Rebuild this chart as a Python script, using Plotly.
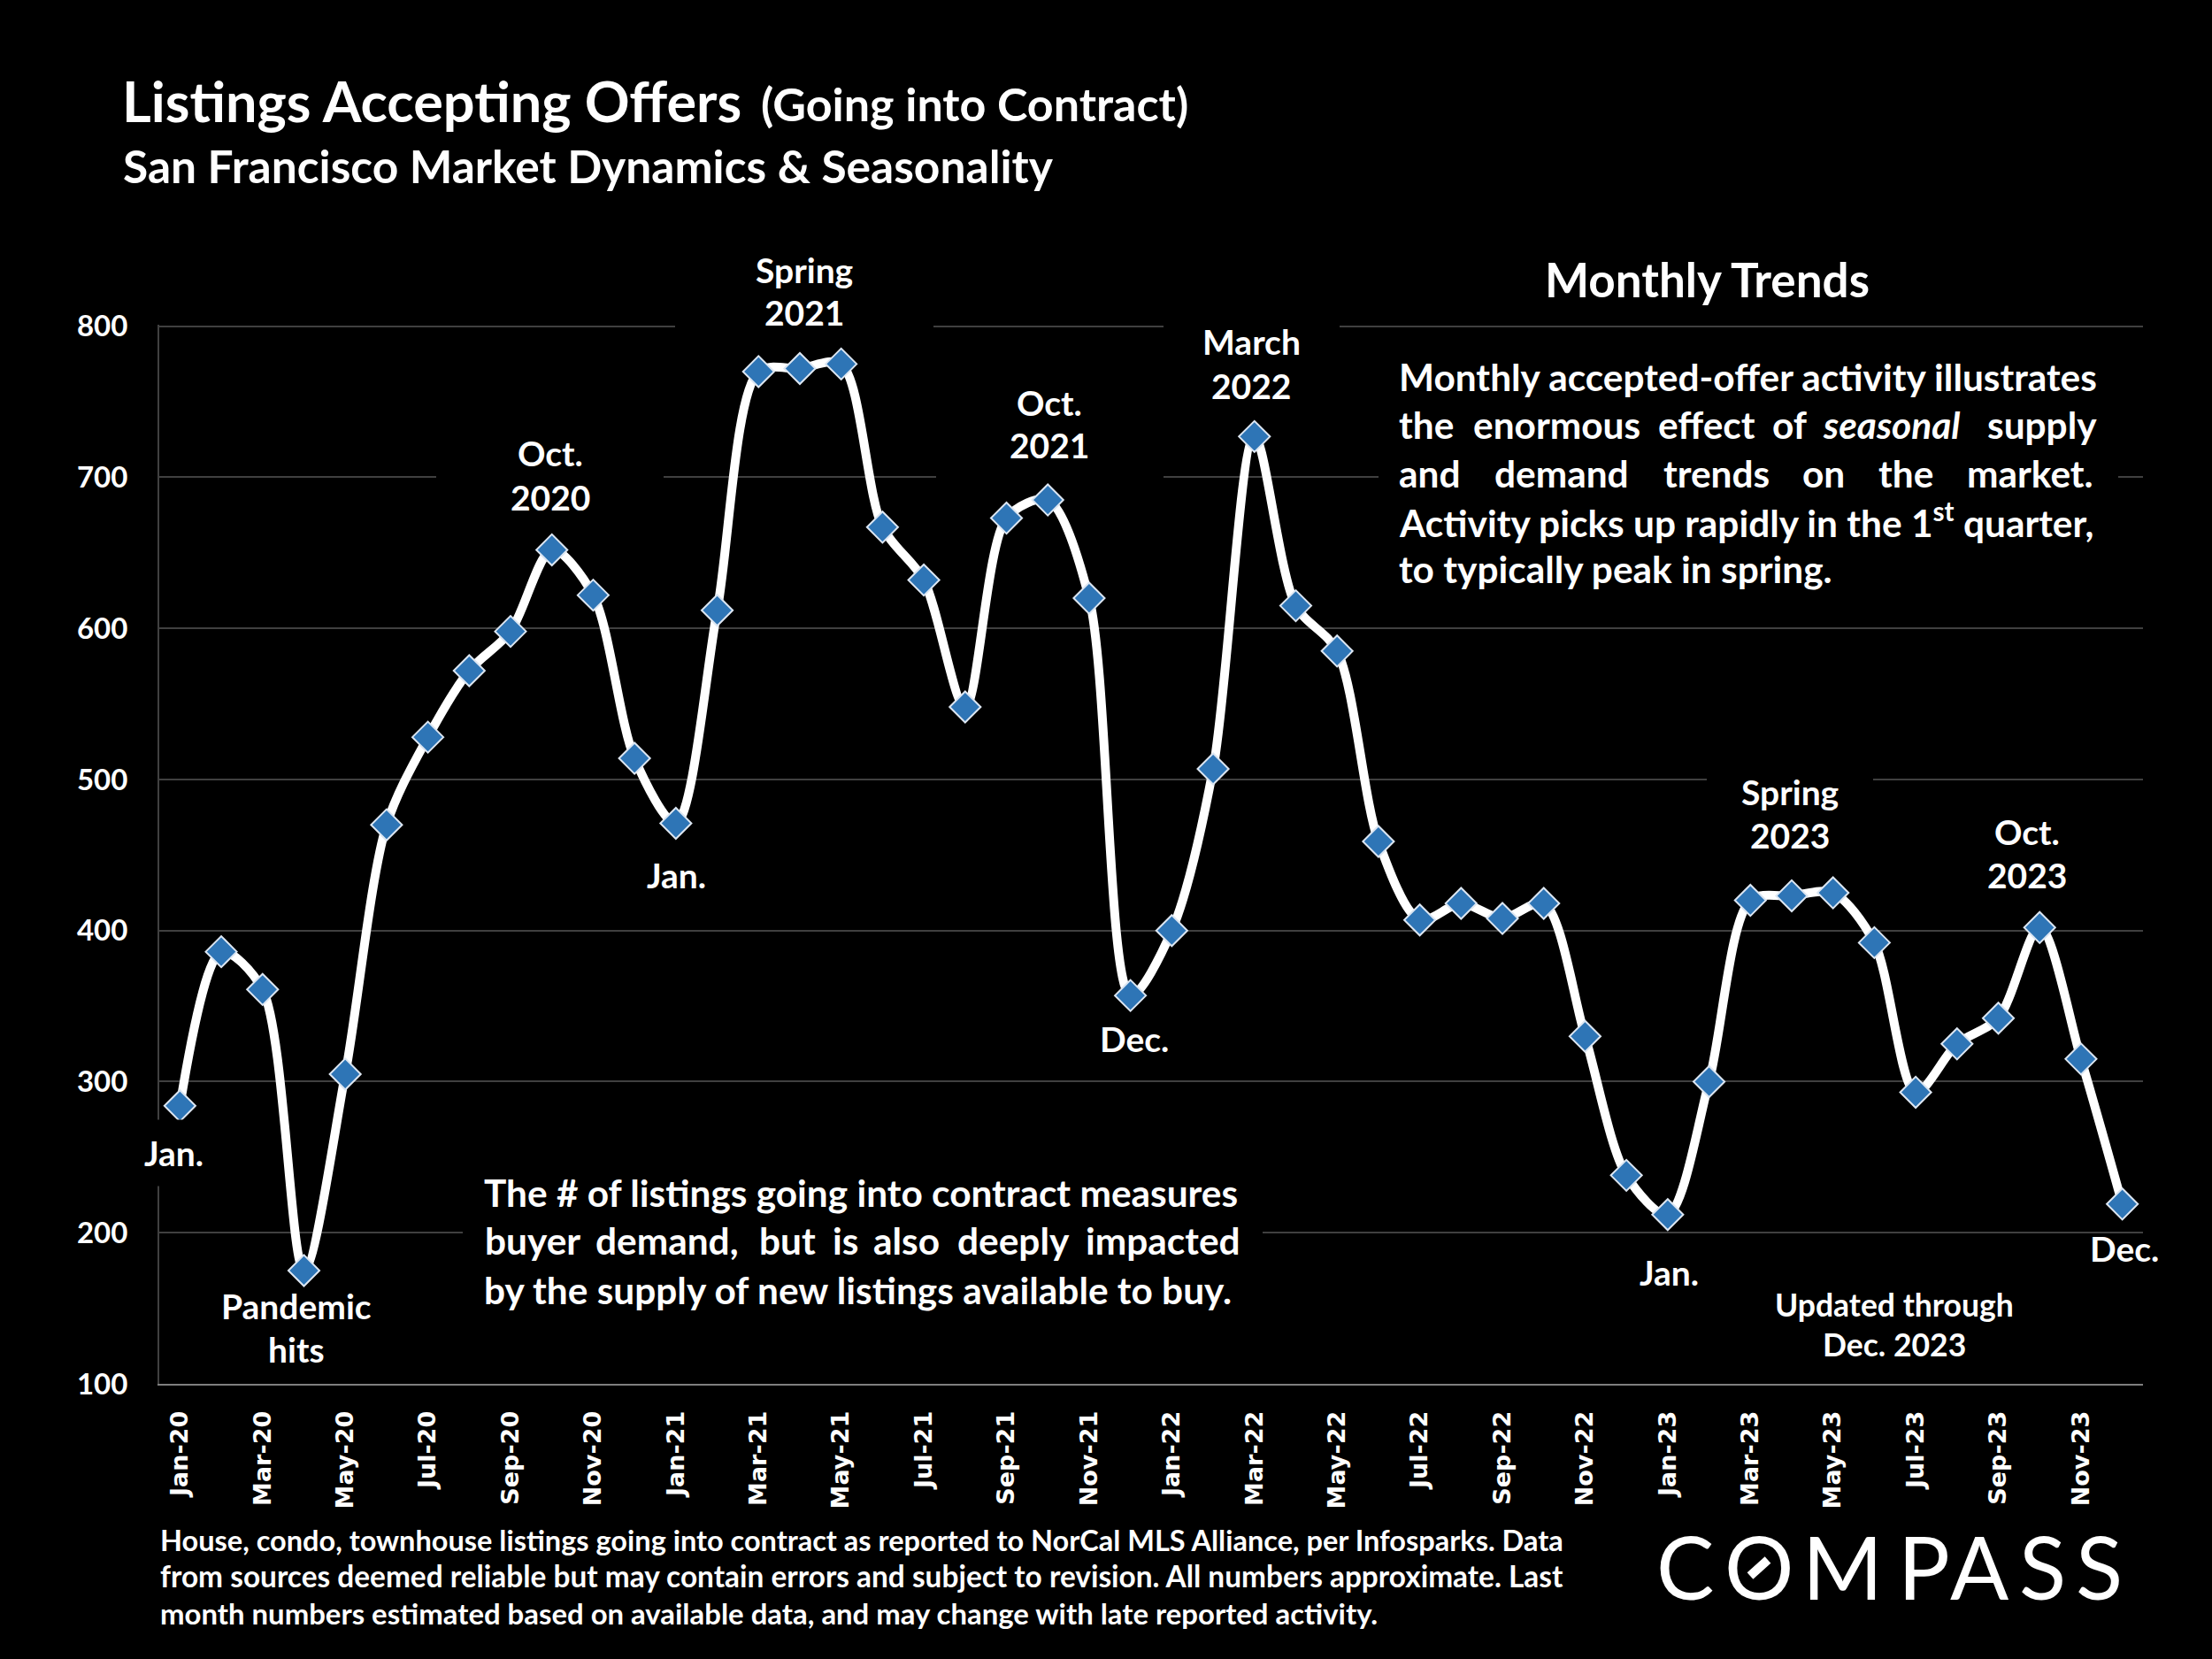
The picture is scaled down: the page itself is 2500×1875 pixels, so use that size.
import plotly.graph_objects as go

months = [f'{m}-{y}' for y in ('20', '21', '22', '23')
          for m in ('Jan', 'Feb', 'Mar', 'Apr', 'May', 'Jun', 'Jul', 'Aug', 'Sep', 'Oct', 'Nov', 'Dec')]
values = [284, 386, 361, 175, 305, 470, 528, 572, 598, 652, 622, 514,
          471, 612, 770, 772, 775, 667, 632, 548, 673, 685, 620, 357,
          400, 507, 727, 615, 585, 459, 407, 418, 408, 418, 330, 238,
          212, 300, 420, 423, 425, 392, 293, 325, 342, 402, 315, 219]
y_ticks = [100, 200, 300, 400, 500, 600, 700, 800]

FONT = 'Lato'

# plot box in page pixels; the y range runs a hair past 800 so its gridline is kept
L, R, T, B = 180, 2422, 367.3, 1564

# gaps in the gridlines behind the text boxes: gridline value, left px, right px
grid_gaps = [
    (800, 763, 1055), (800, 1315, 1514),
    (700, 493, 750), (700, 1058, 1315), (700, 1558, 2394),
    (500, 1929, 2117),
    (200, 523, 1427),
]

# x px (anchor), y px (centre), text, size, anchor
labels = [
    (137, 114, 'Listings Accepting Offers', 63, 'left'),
    (859, 117, '(Going into Contract)', 52, 'left'),
    (138, 187, 'San Francisco Market Dynamics &amp; Seasonality', 51.5, 'left'),
    (1929, 316, 'Monthly Trends', 53, 'center'),
    (909, 305, 'Spring', 39, 'center'), (909, 353, '2021', 39, 'center'),
    (622, 512, 'Oct.', 39, 'center'), (622, 562, '2020', 39, 'center'),
    (1186, 455, 'Oct.', 39, 'center'), (1186, 503, '2021', 39, 'center'),
    (1414, 386, 'March', 39, 'center'), (1414, 436, '2022', 39, 'center'),
    (2023, 895, 'Spring', 39, 'center'), (2023, 944, '2023', 39, 'center'),
    (2291, 940, 'Oct.', 39, 'center'), (2291, 989, '2023', 39, 'center'),
    (335, 1476, 'Pandemic', 39, 'center'), (335, 1525, 'hits', 39, 'center'),
    (764, 989, 'Jan.', 39, 'center'),
    (1282, 1174, 'Dec.', 39, 'center'),
    (1886, 1438, 'Jan.', 39, 'center'),
    (2401, 1411, 'Dec.', 39, 'center'),
    (2141, 1475, 'Updated through', 35.5, 'center'),
    (2141, 1520, 'Dec. 2023', 35.5, 'center'),
    (1580, 426, 'Monthly accepted-offer activity illustrates', 42.4, 'left'),
    (1580, 588, 'Activity picks up rapidly in the 1<sup>st</sup> quarter,', 42.4, 'left'),
    (1580, 643, 'to typically peak in spring.', 42.4, 'left'),
    (546, 1348, 'The # of listings going into contract measures', 42.4, 'left'),
    (546, 1458, 'by the supply of new listings available to buy.', 42.4, 'left'),
    (180, 1740, 'House, condo, townhouse listings going into contract as reported to NorCal MLS Alliance, per Infosparks. Data', 32.5, 'left'),
    (180, 1781, 'from sources deemed reliable but may contain errors and subject to revision. All numbers approximate. Last', 33.4, 'left'),
    (180, 1823, 'month numbers estimated based on available data, and may change with late reported activity.', 32.9, 'left'),
]

# justified lines, one word at a time: y px, then (left px, word)
justified = [
    (480, [(1580, 'the'), (1664, 'enormous'), (1873, 'effect'), (2002, 'of'),
           (2059, '<i>seasonal</i>'), (2245, 'supply')]),
    (535, [(1580, 'and'), (1688, 'demand'), (1879, 'trends'), (2036, 'on'),
           (2122, 'the'), (2222, 'market.')]),
    (1402, [(547, 'buyer'), (672, 'demand,'), (857, 'but'), (940, 'is'),
            (986, 'also'), (1081, 'deeply'), (1226, 'impacted')]),
]

# logo letters: centre x px, letter
logo = [(1904, 'C'), (1988, 'O'), (2082, 'M'), (2174, 'P'), (2237, 'A'), (2308, 'S'), (2372, 'S')]


def px_x(px):
    return (px - L) / (R - L) * 48 - 0.5


def paper_x(px):
    return (px - L) / (R - L)


def paper_y(py):
    return (B - py) / (B - T)


def label(x, y, text, size, anchor, bold=True, bg=None, pad=0):
    return dict(
        x=paper_x(x), y=paper_y(y), xref='paper', yref='paper',
        text=f'<b>{text}</b>' if bold else text, showarrow=False,
        xanchor=anchor, yanchor='middle',
        font=dict(family=FONT, size=size, color='white'), bgcolor=bg, borderpad=pad,
    )


fig = go.Figure(go.Scatter(
    x=list(range(len(values))),
    y=values,
    mode='lines+markers',
    line=dict(color='white', width=10, shape='spline', smoothing=0.85),
    marker=dict(symbol='diamond', size=27, color='#2E75B6', line=dict(color='#DCE6F2', width=2)),
    hoverinfo='skip',
))

annotations = [label(*item) for item in labels]
for y, words in justified:
    annotations += [label(x, y, word, 42.4, 'left') for x, word in words]
# this one also hides a stretch of the y axis line
annotations.append(label(196, 1303, 'Jan.', 39, 'center', bg='black', pad=14))
annotations += [label(x, 1770, letter, 98, 'center', bold=False) for x, letter in logo]

shapes = [
    dict(type='rect', layer='between', xref='x', yref='y',
         x0=px_x(x0), x1=px_x(x1), y0=value - 2, y1=value + 2,
         fillcolor='black', line_width=0)
    for value, x0, x1 in grid_gaps
]
# the bar inside the logo's O
shapes.append(dict(type='line', layer='above', xref='paper', yref='paper',
                   x0=paper_x(1978), x1=paper_x(1998), y0=paper_y(1781), y1=paper_y(1763),
                   line=dict(color='white', width=10)))

fig.update_layout(
    width=2500, height=1875,
    margin=dict(l=L, r=2500 - R, t=T, b=1875 - B, pad=0),
    paper_bgcolor='black', plot_bgcolor='black',
    showlegend=False,
    annotations=annotations,
    shapes=shapes,
    xaxis=dict(
        range=[-0.5, 47.5], tickmode='array',
        tickvals=list(range(0, 48, 2)), ticktext=months[::2],
        tickangle=-90, tickfont=dict(family='DejaVu Sans', size=27, color='white', weight='bold'),
        ticks='outside', ticklen=18, tickcolor='black',
        showgrid=False, zeroline=False, showline=True, linecolor='#7F7F7F', linewidth=2,
    ),
    yaxis=dict(
        range=[100, 801], tickmode='array', tickvals=y_ticks,
        tickfont=dict(family=FONT, size=33, color='white', weight='bold'),
        ticks='outside', ticklen=27, tickcolor='black',
        showgrid=True, gridcolor='#404040', gridwidth=1.5, zeroline=False,
        showline=True, linecolor='#404040', linewidth=2,
    ),
)

fig.write_html('out.html', config=dict(displayModeBar=False),
               post_script="document.body.style.margin = '0';")
